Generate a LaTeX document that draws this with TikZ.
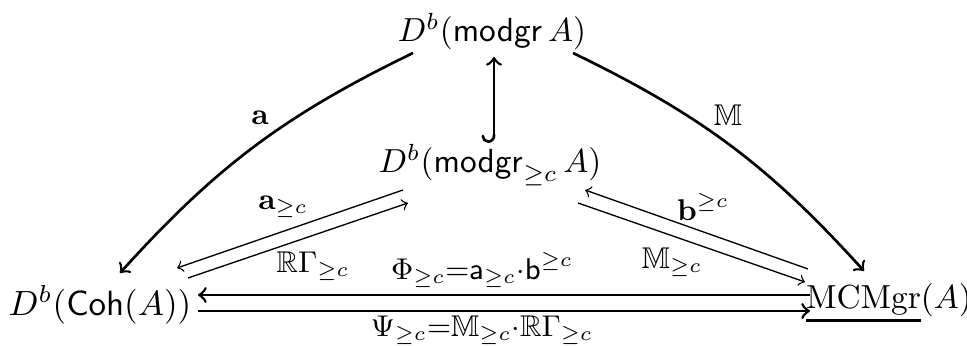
\documentclass[tikz,border=0pt]{standalone}
\usepackage{amsmath,amssymb}
\usetikzlibrary{arrows}
\newcommand{\thickunder}[1]{\vtop{\hbox{$#1$}\kern1.2pt\hrule height 0.9pt}}
\begin{document}
\begin{tikzpicture}[x=0.3pt,y=-0.3pt,
  obj/.style={inner sep=0pt},
  lab/.style={inner sep=0pt,font=\small},
  thk/.style={line width=0.8pt,-to},
  thn/.style={line width=0.4pt,-to}]
\useasboundingbox (0,0) rectangle (967,346);
\node[obj] (top) at (492,32) {$D^b(\mathsf{modgr}\,A)$};
\node[obj] (mid) at (490,165) {$D^b(\mathsf{modgr}_{\geq c}\,A)$};
\node[obj,scale=1.05] (left) at (100,305) {$D^b(\mathsf{Coh}(A))$};
\node[obj] (right) at (889,303) {$\thickunder{\mathrm{MCMgr}}(A)$};

\draw[thk] ([shift={(-79,21)}]top.center) to[bend right=11] ([shift={(20,-32)}]left.center);
\draw[thk] ([shift={(81,21)}]top.center) to[bend left=11] ([shift={(-25,-32)}]right.center);
\draw[thk,right hook-to] ([shift={(4,-22)}]mid.center) -- ([shift={(2,25)}]top.center);
\draw[thn] ([shift={(-87,25)}]mid.center) -- ([shift={(77,-37)}]left.center);
\draw[thn] ([shift={(88,-27)}]left.center) -- ([shift={(-82,38)}]mid.center);
\draw[thn] ([shift={(-81,-34)}]right.center) -- ([shift={(95,25)}]mid.center);
\draw[thn] ([shift={(88,38)}]mid.center) -- ([shift={(-84,-21)}]right.center);
\draw[thk] ([shift={(-79,-8)}]right.center) -- ([shift={(98,-10)}]left.center);
\draw[thk] ([shift={(98,6)}]left.center) -- ([shift={(-79,8)}]right.center);

\node[lab] (la) at (260,118) {$\mathbf{a}$};
\node[lab] (lm) at (728,115) {$\mathbb{M}$};
\node[lab] (lag) at (283,207) {$\mathbf{a}_{\geq c}$};
\node[lab] (lrg) at (313,266) {$\mathbb{R}\Gamma_{\geq c}$};
\node[lab] (lbg) at (703,207) {$\mathbf{b}^{\geq c}$};
\node[lab] (lmg) at (672,262) {$\mathbb{M}_{\geq c}$};
\node[lab] (lphi) at (482,270) {$\Phi_{\geq c}{=}\mathsf{a}_{\geq c}{\cdot}\mathsf{b}^{\geq c}$};
\node[lab] (lpsi) at (482,330) {$\Psi_{\geq c}{=}\mathbb{M}_{\geq c}{\cdot}\mathbb{R}\Gamma_{\geq c}$};
\end{tikzpicture}
\end{document}
